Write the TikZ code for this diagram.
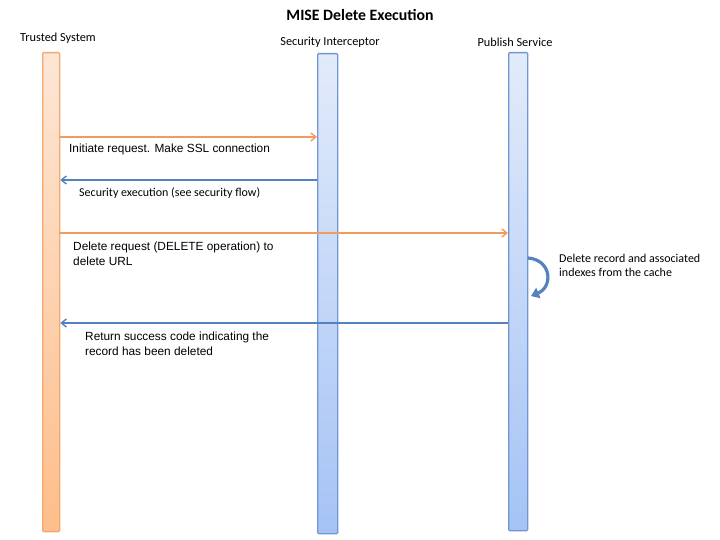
\documentclass[tikz,border=0pt]{standalone}
\usepackage{fontspec}
\setmainfont{Carlito}
\newfontfamily\arialf{Liberation Sans}
\usetikzlibrary{arrows.meta,calc}
\definecolor{orgline}{HTML}{F29B5C}
\definecolor{orgborder}{HTML}{F4A76E}
\definecolor{orgtop}{HTML}{FDE6D6}
\definecolor{orgbot}{HTML}{FDBE8A}
\definecolor{blueline}{HTML}{5582BE}
\definecolor{blueborder}{HTML}{7097D2}
\definecolor{bluetop}{HTML}{E2EBFA}
\definecolor{bluebot}{HTML}{A5C3F5}
\tikzset{
  x=1pt,y=-1pt,
  orgbar/.style={draw=orgborder,line width=1.3pt,rounded corners=1pt,top color=orgtop,bottom color=orgbot,inner sep=0pt},
  bluebar/.style={draw=blueborder,line width=1.3pt,rounded corners=1pt,top color=bluetop,bottom color=bluebot,inner sep=0pt},
  omsg/.style={draw=orgline,line width=1.4pt,-{Straight Barb[length=5pt,width=8pt]}},
  bmsg/.style={draw=blueline,line width=1.4pt,-{Straight Barb[length=5pt,width=8pt]}},
  lab/.style={font=\arialf\fontsize{11.85}{14.8}\selectfont,anchor=north west,inner sep=0pt,align=left},
  slab/.style={font=\fontsize{12}{14}\selectfont,anchor=north west,inner sep=0pt,align=left},
  head/.style={font=\fontsize{12.3}{14}\selectfont,inner sep=0pt},
}
\begin{document}
\begin{tikzpicture}
\useasboundingbox (0,0) rectangle (720,540);
\node[font=\bfseries\fontsize{15.8}{18}\selectfont,inner sep=0pt] (title) at (360,15) {MISE Delete Execution};
\node[head] (hts) at (58,38) {Trusted System};
\node[head] (hsi) at (330,42) {Security Interceptor};
\node[head] (hps) at (515,42) {Publish Service};
\node[orgbar,minimum width=17,minimum height=479,anchor=north west] (ts) at (42,52) {};
\node[bluebar,minimum width=20,minimum height=480,anchor=north west] (si) at (317,53) {};
\node[bluebar,minimum width=19,minimum height=478,anchor=north west] (ps) at (508,52) {};
% messages
\coordinate (y1) at (0,137);
\coordinate (y2) at (0,180);
\coordinate (y3) at (0,233);
\coordinate (y5) at (0,323);
\draw[omsg] (ts.east |- y1) -- (si.west |- y1);
\draw[bmsg] (si.west |- y2) -- (ts.east |- y2);
\draw[omsg] (ts.east |- y3) -- (ps.west |- y3);
\draw[bmsg] (ps.west |- y5) -- (ts.east |- y5);
\node[lab] (l1) at (69,144) {Initiate request. Make SSL connection};
\node[slab] (l2) at (79,187.5) {Security execution (see security flow)};
\node[lab] (l3) at (73,242) {Delete request (DELETE operation) to\\delete URL};
\node[lab] (l5) at (85,332) {Return success code indicating the\\record has been deleted};
% self arrow
\coordinate (sa) at (528,258);
\coordinate (sb) at (531,296);
\draw[draw=blueline,line width=3.2pt,-{Triangle[length=8pt,width=11pt]}] (sa) .. controls (552,260) and (553,287) .. (sb);
\node[slab] (l4) at (559,254) {Delete record and associated\\indexes from the cache};
\end{tikzpicture}
\end{document}
